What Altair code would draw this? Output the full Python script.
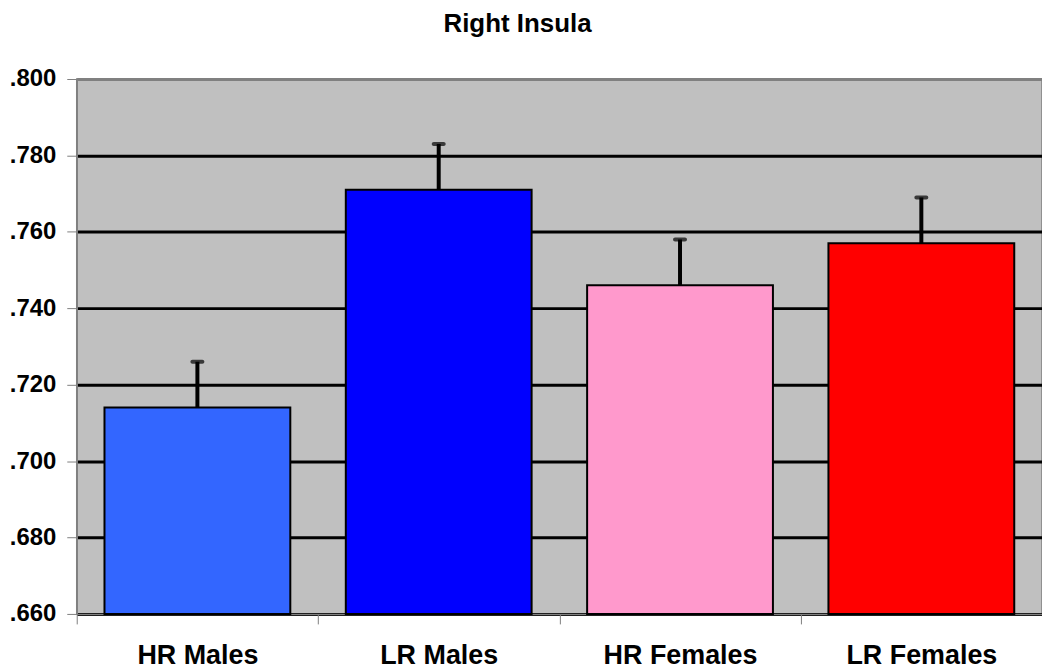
import altair as alt
import pandas as pd

groups = ["HR Males", "LR Males", "HR Females", "LR Females"]
means = [0.714, 0.771, 0.746, 0.757]
upper = [0.726, 0.783, 0.758, 0.769]
colors = ["#3366FF", "#0000FF", "#FF99CC", "#FF0000"]
y_ticks = [0.66, 0.68, 0.70, 0.72, 0.74, 0.76, 0.78, 0.80]
y_min, y_max = 0.66, 0.80

df = pd.DataFrame({"group": groups, "mean": means, "upper": upper})

W, H = 969, 537
step = W / 4

x = alt.X("group:N", sort=groups, title=None,
          scale=alt.Scale(paddingInner=0.23, paddingOuter=0.115),
          axis=alt.Axis(labelFont="Arial", labelFontWeight="bold", labelFontSize=27,
                        labelColor="black", labelAngle=0, tickColor="#808080",
                        tickSize=10, tickOffset=-step / 2, labelOffset=step / 2,
                        labelPadding=19, domainColor="#808080", domainWidth=1.5))
y_scale = alt.Scale(domain=[y_min, y_max], nice=False, zero=False)

bars = alt.Chart(df).mark_bar(stroke="black", strokeWidth=2).encode(
    x=x,
    y=alt.Y("mean:Q", scale=y_scale, title=None,
            axis=alt.Axis(values=y_ticks,
                          labelExpr="substring(format(datum.value, '.3f'), 1)",
                          labelFont="Arial", labelFontWeight="bold", labelFontSize=24,
                          labelColor="black", labelPadding=11, tickSize=10,
                          tickColor="#808080", domainColor="#808080", domainWidth=1.5,
                          grid=True, gridWidth=3,
                          gridColor={"condition": {"test": "datum.value >= 0.8", "value": "#808080"}, "value": "black"})),
    y2=alt.datum(y_min),
    color=alt.Color("group:N", sort=groups, scale=alt.Scale(domain=groups, range=colors), legend=None),
)

stems = alt.Chart(df).mark_rule(color="black", strokeWidth=4).encode(
    x=alt.X("group:N", sort=groups),
    y=alt.Y("mean:Q", scale=y_scale),
    y2="upper:Q",
)

caps = alt.Chart(df).mark_tick(color="black", size=14, thickness=4, cornerRadius=2).encode(
    x=alt.X("group:N", sort=groups),
    y=alt.Y("upper:Q", scale=y_scale),
)

chart = alt.layer(bars, stems, caps).properties(
    width=W, height=H,
    background="white",
    title=alt.TitleParams("Right Insula", font="Arial", fontWeight="bold", fontSize=26,
                          color="black", offset=30, dx=-42),
    autosize=alt.AutoSizeParams(type="none"),
    padding={"left": 69, "top": 70, "right": 0, "bottom": 56},
).configure_view(fill="#C0C0C0", stroke="#808080", strokeWidth=1.5)

chart.save("out.html", embed_options={"renderer": "svg", "actions": False})
